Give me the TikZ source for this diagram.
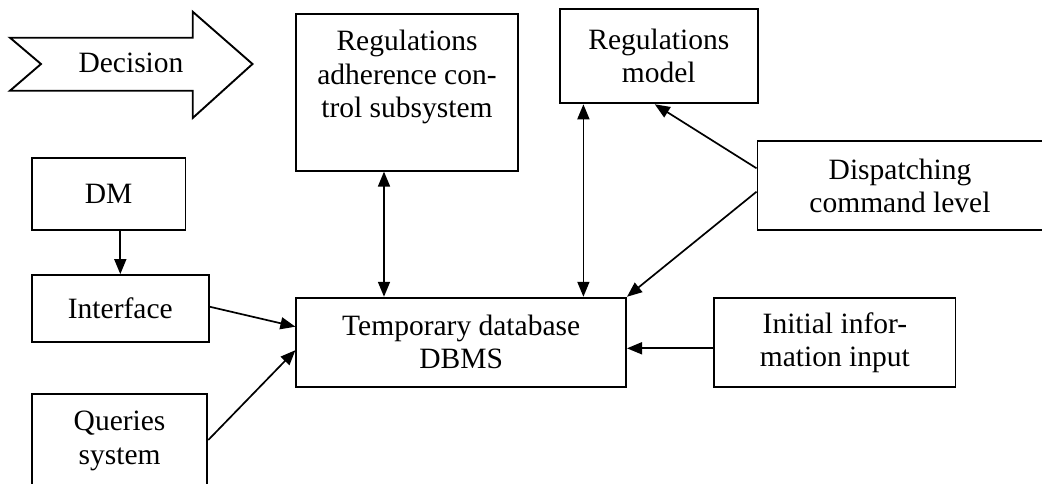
\documentclass[tikz,border=0pt]{standalone}
\usepackage{fontspec}
\setmainfont{Liberation Serif}
\usetikzlibrary{arrows.meta,calc}
\begin{document}
\begin{tikzpicture}[x=1pt,y=-1pt,
  every node/.style={font=\fontsize{29.5}{33.3}\selectfont},
  box/.style={draw,line width=1.9pt,inner sep=0pt,align=center},
  txt/.style={inner sep=0pt,align=center},
  conn/.style={line width=1.7pt,-{Triangle[length=15pt,width=12pt]}},
  dconn/.style={line width=1.7pt,{Triangle[length=15pt,width=12pt]}-{Triangle[length=15pt,width=12pt]}}]
\useasboundingbox (0,0) rectangle (1042,483);
\clip (0,0) rectangle (1042,483);
\fill[white] (0,0) rectangle (1042,483);
% Decision arrow
\draw[line width=1.9pt,line join=miter] (10,37.7) -- (192.7,37.7) -- (192.7,11.7) -- (252.5,64) -- (192.7,118) -- (192.7,90.7) -- (10,90.7) -- (41,64) -- cycle;
\node[txt] (dec) at (131,63) {Decision};
% boxes
\node[box,minimum width=221.3pt,minimum height=156.7pt] (rac) at (407,92.3) {};
\node[txt] (racT) at (407,77) {Regulations\\adherence con-\\trol subsystem};
\node[box,minimum width=197.5pt,minimum height=94.3pt] (rm) at (658.8,56.2) {Regulations\\model};
\node[box,minimum width=290pt,minimum height=89.3pt] (disp) at (902.5,185.3) {};
\node[txt] (dispT) at (900,186) {Dispatching\\command level};
\node[box,minimum width=153.5pt,minimum height=72pt] (dm) at (108.7,194) {DM};
\node[box,minimum width=176.7pt,minimum height=67.3pt] (iface) at (120.3,308.7) {Interface};
\node[box,minimum width=175.4pt,minimum height=120pt] (qs) at (119.6,454) {};
\node[txt] (qsT) at (119.6,441) {Queries\\system};
\node[box,minimum width=329.7pt,minimum height=89pt] (temp) at (461.2,342.2) {Temporary database\\DBMS};
\node[box,minimum width=241.2pt,minimum height=89.5pt] (init) at (834.9,342.5) {Initial infor-\\mation input};
% connectors
\draw[conn] (dm.south -| iface.north) -- (iface.north);
\draw[dconn] (rac.south -| 384,0) -- (temp.north -| 384,0);
\draw[dconn] (rm.south -| 583.4,0) -- (temp.north -| 583.4,0);
\draw[conn] ([yshift=17pt]disp.west) -- ([xshift=-4pt]rm.south);
\draw[conn] ([yshift=-6.4pt]disp.west) -- (temp.north east);
\draw[conn] ([yshift=2pt]iface.east) -- ([yshift=15.5pt]temp.west);
\draw[conn] (qs.east |- 0,440) -- ([yshift=-8pt]temp.west);
\draw[conn] ([yshift=-5.8pt]init.west) -- ([yshift=-5.8pt]init.west -| temp.east);
\end{tikzpicture}
\end{document}
